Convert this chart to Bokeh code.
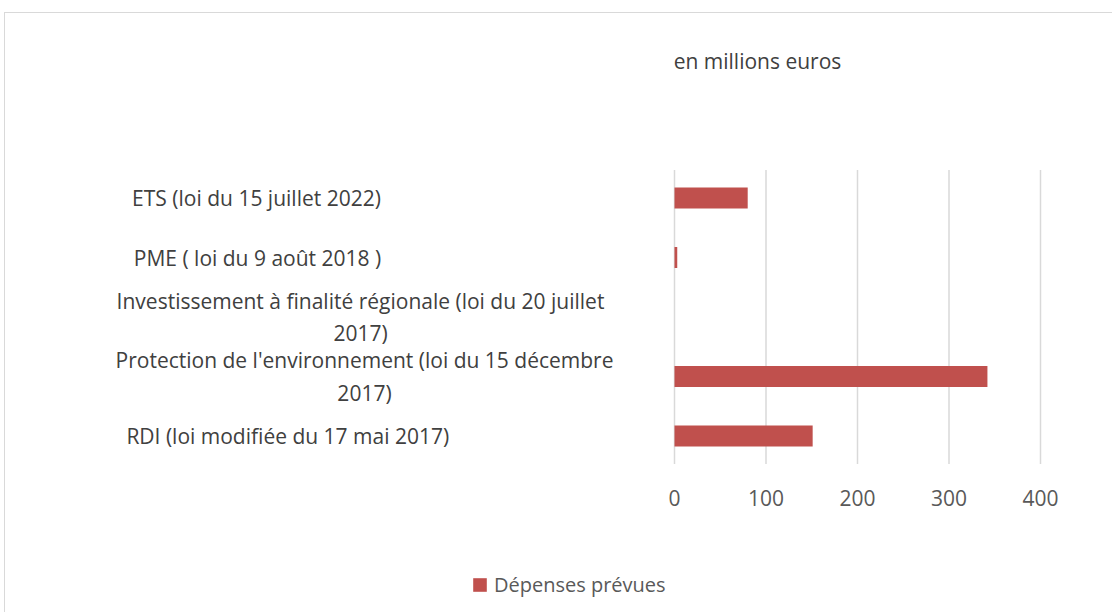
from bokeh.plotting import figure
from bokeh.models import Range1d, Label, Legend, LegendItem
from bokeh.core.properties import value
from bokeh.embed import file_html
from bokeh.resources import INLINE

# ---- data (top to bottom as in the reference) ----
categories = [
    "ETS (loi du 15 juillet 2022)",
    "PME ( loi du 9 août 2018 )",
    "Investissement à finalité régionale (loi du 20 juillet\n2017)",
    "Protection de l'environnement (loi du 15 décembre\n2017)",
    "RDI (loi  modifiée du 17 mai 2017)",
]
depenses_prevues = [80, 3, 0, 342, 151]
x_ticks = [0, 100, 200, 300, 400]
tick_labels = ["0", "100", "200", "300", "400"]
series_name = "Dépenses prévues"
unit_note = "en millions euros"

# ---- layout (styles / positions, not data) ----
FONT = "Open Sans"
W, H = 1108, 600
PAGE_X0, PAGE_Y0 = 5, 13            # canvas origin on page (margin + border)
PX_PER_X = 366 / 400                # pixels per euro-million
PX_PER_Y = 59.5                     # pixels per category
ZERO_PAGE_X = 674                   # page x of value 0
CAT0_PAGE_Y = 435.5                 # page y of the bottom category centre

x_start = -(ZERO_PAGE_X - PAGE_X0) / PX_PER_X
x_end = x_start + W / PX_PER_X
y_end = (CAT0_PAGE_Y - PAGE_Y0) / PX_PER_Y
y_start = y_end - H / PX_PER_Y

def px_to_x(page_x):
    return (page_x - ZERO_PAGE_X) / PX_PER_X

def py_to_y(page_y):
    return (CAT0_PAGE_Y - page_y) / PX_PER_Y

n = len(categories)
y_pos = [n - 1 - i for i in range(n)]
label_centres_page_x = [256, 257, 360, 364, 290]
label_x = [px_to_x(v) for v in label_centres_page_x]

p = figure(width=W, height=H, output_backend="svg", toolbar_location=None,
           x_range=Range1d(x_start, x_end), y_range=Range1d(y_start, y_end),
           min_border=0, x_axis_location=None, y_axis_location=None)
p.outline_line_color = None
p.grid.grid_line_color = None
p.styles = {"margin-left": "4px", "margin-top": "12px",
            "border-top": "1px solid #d9d9d9",
            "border-left": "1px solid #d9d9d9"}

# vertical gridlines at the tick values
p.segment(x0=x_ticks, x1=x_ticks, y0=[-0.47] * len(x_ticks),
          y1=[n - 1 + 0.47] * len(x_ticks), line_color="#d9d9d9", line_width=1.5)

# bars
r = p.hbar(y=y_pos, right=depenses_prevues, left=0, height=0.353,
           fill_color="#C0504D", line_color=None)

# x tick labels
p.text(x=x_ticks, y=[py_to_y(497)] * len(x_ticks), text=tick_labels,
       text_align="center", text_baseline="middle", text_font=value(FONT),
       text_font_size="21px", text_color="#595959")

# category labels
p.text(x=label_x, y=y_pos, text=categories, text_align="center",
       text_baseline="middle", text_font=value(FONT), text_font_size="21px",
       text_color="#404040", text_line_height=1.15)

# unit note
p.add_layout(Label(x=px_to_x(757), y=py_to_y(60), text=unit_note,
                   text_align="center", text_baseline="middle",
                   text_font=FONT, text_font_size="21px", text_color="#404040"))

legend = Legend(items=[LegendItem(label=series_name, renderers=[r])],
                location=(466, 15), padding=0, margin=0,
                glyph_width=17, glyph_height=17, label_standoff=6,
                label_text_font=FONT, label_text_font_size="20px",
                label_text_color="#595959", border_line_color=None,
                background_fill_alpha=0)
p.add_layout(legend, "center")

open("out.html", "w").write(file_html(p, INLINE))
